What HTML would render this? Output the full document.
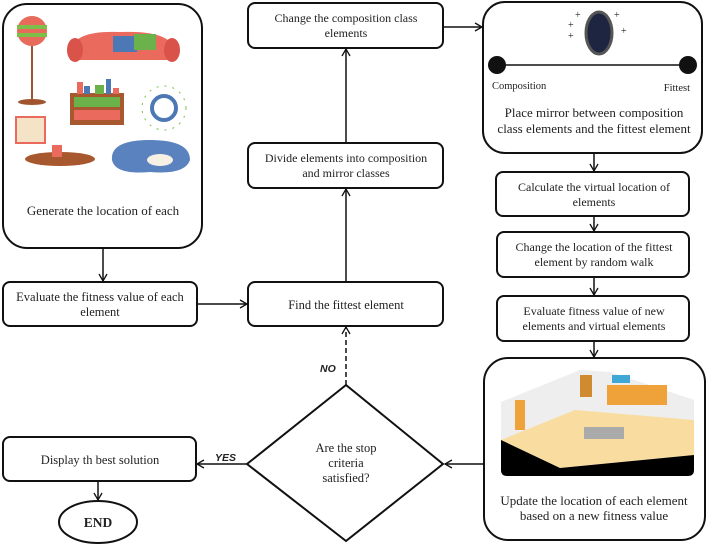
<!DOCTYPE html>
<html><head><meta charset="utf-8"><style>
body{margin:0;background:#fff;width:708px;height:546px;overflow:hidden}
</style></head><body>
<svg width="708" height="546" viewBox="0 0 708 546" xmlns="http://www.w3.org/2000/svg" font-family="Liberation Serif, serif" font-size="12" fill="#222">
<defs><marker id="a" markerWidth="10" markerHeight="10" refX="8" refY="5" orient="auto" markerUnits="userSpaceOnUse"><path d="M1,1 L8,5 L1,9" fill="none" stroke="#111" stroke-width="1.3"/></marker></defs>
<g fill="none" stroke="#111" stroke-width="2">
<rect x="3" y="4" width="199" height="244" rx="24"/>
<rect x="248" y="3" width="195" height="45" rx="7"/>
<rect x="248" y="143" width="195" height="45" rx="7"/>
<rect x="248" y="282" width="195" height="44" rx="7"/>
<rect x="3" y="282" width="194" height="44" rx="7"/>
<rect x="483" y="2" width="219" height="151" rx="22"/>
<rect x="496" y="172" width="193" height="44" rx="7"/>
<rect x="497" y="232" width="192" height="45" rx="7"/>
<rect x="497" y="296" width="192" height="45" rx="7"/>
<rect x="484" y="358" width="221" height="182" rx="24"/>
<path d="M346,385 L443,464 L346,541 L247,464 Z"/>
<rect x="3" y="437" width="193" height="44" rx="7"/>
<ellipse cx="98" cy="522" rx="39" ry="21"/>
</g>
<g stroke="#111" stroke-width="1.5" fill="none" marker-end="url(#a)">
<line x1="103" y1="248" x2="103" y2="281"/>
<line x1="197" y1="304" x2="247" y2="304"/>
<line x1="346" y1="282" x2="346" y2="189"/>
<line x1="346" y1="143" x2="346" y2="49"/>
<line x1="443" y1="27" x2="482" y2="27"/>
<line x1="594" y1="153" x2="594" y2="171"/>
<line x1="594" y1="216" x2="594" y2="231"/>
<line x1="594" y1="277" x2="594" y2="295"/>
<line x1="594" y1="341" x2="594" y2="357"/>
<line x1="484" y1="464" x2="445" y2="464"/>
<line x1="247" y1="464" x2="197" y2="464"/>
<line x1="98" y1="481" x2="98" y2="500"/>
<line x1="346" y1="385" x2="346" y2="327" stroke-dasharray="5,3"/>
</g>
<!-- furniture -->
<g>
<circle cx="32" cy="31" r="15" fill="#e86a5a"/><rect x="17" y="25" width="30" height="4" fill="#7cbf4a"/><rect x="17" y="33" width="30" height="4" fill="#7cbf4a"/>
<rect x="31" y="46" width="2" height="55" fill="#a0552f"/><ellipse cx="32" cy="102" rx="14" ry="3" fill="#a0552f"/>
<path d="M70,50 Q75,30 120,32 Q170,30 175,50 L175,60 L70,60 Z" fill="#ea6a5e"/><ellipse cx="75" cy="50" rx="8" ry="12" fill="#d9534a"/><ellipse cx="172" cy="50" rx="8" ry="12" fill="#d9534a"/>
<rect x="113" y="36" width="24" height="16" fill="#4d78b6"/><rect x="134" y="34" width="22" height="16" fill="#6bb24a"/>
<rect x="70" y="93" width="54" height="32" fill="#a8582f"/><rect x="74" y="97" width="46" height="10" fill="#6bb24a"/><rect x="74" y="110" width="46" height="10" fill="#ea6a5e"/>
<rect x="77" y="82" width="6" height="12" fill="#ea6a5e"/><rect x="84" y="86" width="6" height="8" fill="#4d78b6"/><rect x="95" y="85" width="9" height="9" fill="#6bb24a"/><rect x="106" y="79" width="5" height="15" fill="#4d78b6"/><rect x="113" y="88" width="6" height="6" fill="#ea6a5e"/>
<circle cx="164" cy="108" r="12" fill="none" stroke="#4d78b6" stroke-width="4"/><circle cx="164" cy="108" r="22" fill="none" stroke="#7cbf4a" stroke-width="1" stroke-dasharray="2,6"/>
<rect x="16" y="117" width="29" height="26" fill="#f4e3c6" stroke="#ea6a5e" stroke-width="2"/>
<ellipse cx="60" cy="159" rx="35" ry="7" fill="#a8582f"/><rect x="52" y="145" width="10" height="12" fill="#ea6a5e"/>
<path d="M112,160 Q110,140 150,140 Q190,140 190,160 Q185,175 150,172 Q115,175 112,160Z" fill="#5a82be"/><ellipse cx="160" cy="160" rx="13" ry="6" fill="#f5efe4"/>
</g>
<text x="103" y="215" text-anchor="middle" font-size="13">Generate the location of each</text>
<text x="346" y="22" text-anchor="middle">Change the composition class</text><text x="346" y="37" text-anchor="middle">elements</text>
<text x="346" y="162" text-anchor="middle">Divide elements into composition</text><text x="346" y="177" text-anchor="middle">and mirror classes</text>
<text x="346" y="309" text-anchor="middle" font-size="12.5">Find the fittest element</text>
<text x="100" y="301" text-anchor="middle" font-size="12.5">Evaluate the fitness value of each</text><text x="100" y="316" text-anchor="middle" font-size="12.5">element</text>
<!-- mirror -->
<ellipse cx="599" cy="33" rx="13" ry="21" fill="#1e2540" stroke="#555" stroke-width="3"/>
<text x="575" y="18" font-size="10">+</text><text x="568" y="28" font-size="10">+</text><text x="568" y="39" font-size="10">+</text><text x="614" y="18" font-size="10">+</text><text x="621" y="34" font-size="10">+</text>
<line x1="497" y1="65" x2="688" y2="65" stroke="#111" stroke-width="1.5"/>
<circle cx="497" cy="65" r="9" fill="#111"/><circle cx="688" cy="65" r="9" fill="#111"/>
<text x="492" y="89" font-size="10.5">Composition</text><text x="690" y="91" font-size="10.5" text-anchor="end">Fittest</text>
<text x="594" y="117" text-anchor="middle" font-size="13">Place mirror between composition</text><text x="594" y="133" text-anchor="middle" font-size="13">class elements and the fittest element</text>
<text x="594" y="191" text-anchor="middle">Calculate the virtual location of</text><text x="594" y="206" text-anchor="middle">elements</text>
<text x="594" y="251" text-anchor="middle">Change the location of the fittest</text><text x="594" y="266" text-anchor="middle">element by random walk</text>
<text x="594" y="315" text-anchor="middle">Evaluate fitness value of new</text><text x="594" y="330" text-anchor="middle">elements and virtual elements</text>
<!-- room -->
<path d="M501,402 L580,370 L610,372 L694,400 L694,470 L501,470 Z" fill="#eee"/>
<path d="M501,440 L575,410 L694,420 L694,455 L560,468 Z" fill="#f9dda0"/>
<path d="M501,440 L560,468 L694,455 L694,470 Q694,476 688,476 L507,476 Q501,476 501,470Z" fill="#000"/>
<rect x="607" y="385" width="60" height="20" fill="#f0a23a"/><rect x="612" y="375" width="18" height="8" fill="#3fa7d6"/>
<rect x="580" y="375" width="12" height="22" fill="#d08a30"/><rect x="515" y="400" width="10" height="30" fill="#f0a23a"/>
<rect x="584" y="427" width="40" height="12" fill="#aaa"/>
<text x="594" y="505" text-anchor="middle" font-size="13">Update the location of each element</text><text x="594" y="520" text-anchor="middle" font-size="13">based on a new fitness value</text>
<text x="346" y="452" text-anchor="middle" font-size="12.5">Are the stop</text><text x="346" y="467" text-anchor="middle" font-size="12.5">criteria</text><text x="346" y="482" text-anchor="middle" font-size="12.5">satisfied?</text>
<text x="100" y="464" text-anchor="middle" font-size="12.5">Display th best solution</text>
<text x="98" y="527" text-anchor="middle" font-weight="bold" font-size="13.5">END</text>
<text x="320" y="372" font-weight="bold" font-style="italic" font-size="10.5" font-family="Liberation Sans, sans-serif">NO</text>
<text x="215" y="461" font-weight="bold" font-style="italic" font-size="10.5" font-family="Liberation Sans, sans-serif">YES</text>
</svg>
</body></html>
